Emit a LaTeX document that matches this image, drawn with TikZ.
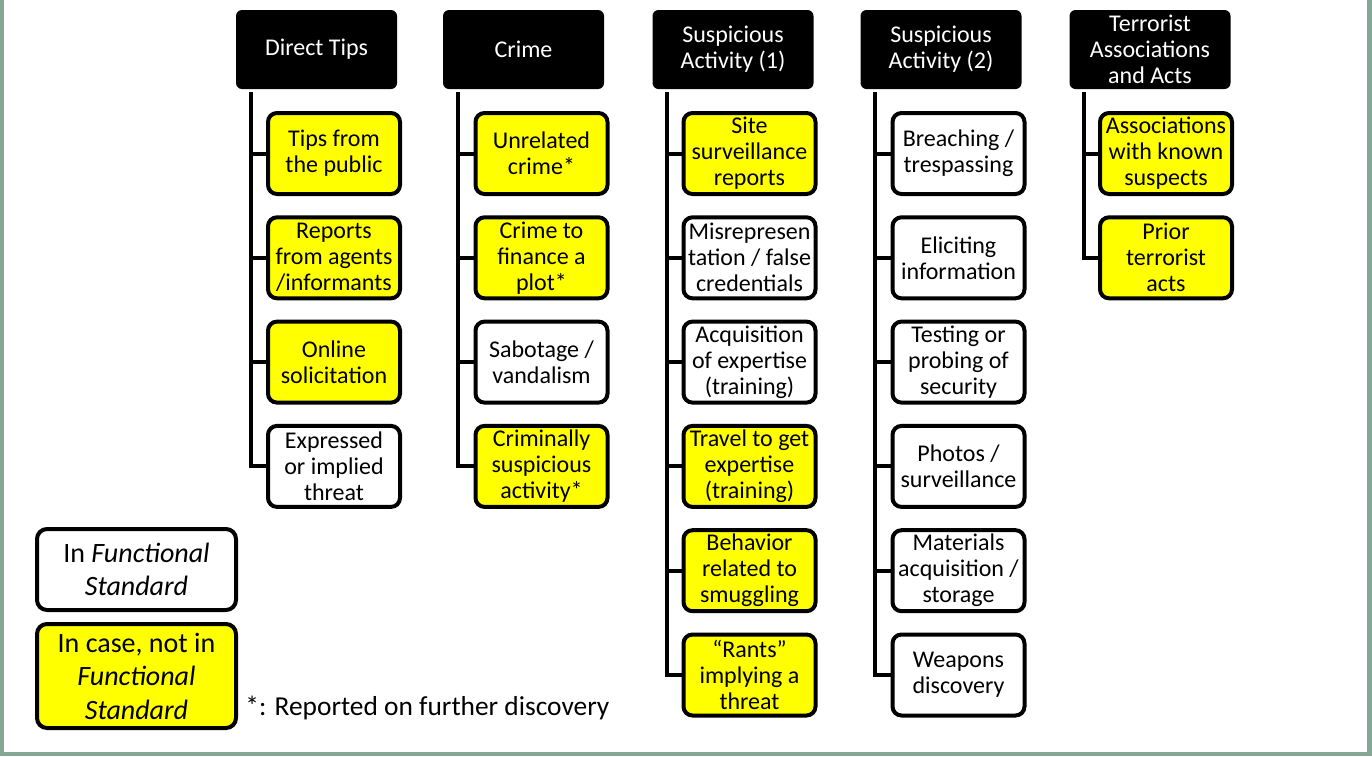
\documentclass[tikz,border=0pt]{standalone}
\usepackage{fontspec}
\setmainfont{Carlito}
\definecolor{framegreen}{RGB}{134,167,147}
\definecolor{boxyellow}{RGB}{255,255,0}
\begin{document}
\begin{tikzpicture}[x=0.5pt,y=-0.5pt,
  hdr/.style={fill=black, text=white, rounded corners=3pt, inner sep=0pt,
    minimum width=80.5pt, minimum height=39.5pt, align=center,
    font=\fontsize{12}{13}\selectfont},
  item/.style={draw=black, line width=2pt, rounded corners=4.5pt, inner sep=0pt,
    minimum width=66pt, minimum height=40.5pt, align=center,
    font=\fontsize{12}{13}\selectfont},
  inyes/.style={item, fill=white},
  inno/.style={item, fill=boxyellow},
  legendbox/.style={draw=black, line width=2pt, rounded corners=5pt, inner sep=0pt,
    minimum width=99.5pt, align=center, font=\fontsize{14}{16.75}\selectfont},
  conn/.style={draw=black, line width=2pt}
]
% page frame
\useasboundingbox (0,0) rectangle (1372,756);
\fill[framegreen] (0,0) rectangle (1372,756);
\fill[white] (4,0) rectangle (1367,752);

% column headers
\node[hdr] (dt) at (316.5,49.5) {Direct Tips};
\node[hdr] (cr) at (523.5,49.5) {Crime};
\node[hdr] (sa) at (733,49.5) {Suspicious\\Activity (1)};
\node[hdr] (sb) at (941,49.5) {Suspicious\\Activity (2)};
\node[hdr] (ta) at (1150,49.5) {Terrorist\\Associations\\and Acts};

% Direct Tips
\node[inno]  (dt1) at (334,153.5) {Tips from\\the public};
\node[inno]  (dt2) at (334,257.8) {Reports\\from agents\\/informants};
\node[inno]  (dt3) at (334,362.1) {Online\\solicitation};
\node[inyes] (dt4) at (334,466.4) {Expressed\\or implied\\threat};

% Crime
\node[inno]  (cr1) at (541.5,153.5) {Unrelated\\crime*};
\node[inno]  (cr2) at (541.5,257.8) {Crime to\\finance a\\plot*};
\node[inyes] (cr3) at (541.5,362.1) {Sabotage /\\vandalism};
\node[inno]  (cr4) at (541.5,466.4) {Criminally\\suspicious\\activity*};

% Suspicious Activity (1)
\node[inno]  (sa1) at (749.5,153.5) {Site\\surveillance\\reports};
\node[inyes] (sa2) at (749.5,257.8) {Misrepresen\\tation / false\\credentials};
\node[inyes] (sa3) at (749.5,362.1) {Acquisition\\of expertise\\(training)};
\node[inno]  (sa4) at (749.5,466.4) {Travel to get\\expertise\\(training)};
\node[inno]  (sa5) at (749.5,570.7) {Behavior\\related to\\smuggling};
\node[inno]  (sa6) at (749.5,675) {“Rants”\\implying a\\threat};

% Suspicious Activity (2)
\node[inyes] (sb1) at (958.5,153.5) {Breaching /\\trespassing};
\node[inyes] (sb2) at (958.5,257.8) {Eliciting\\information};
\node[inyes] (sb3) at (958.5,362.1) {Testing or\\probing of\\security};
\node[inyes] (sb4) at (958.5,466.4) {Photos /\\surveillance};
\node[inyes] (sb5) at (958.5,570.7) {Materials\\acquisition /\\storage};
\node[inyes] (sb6) at (958.5,675) {Weapons\\discovery};

% Terrorist Associations and Acts
\node[inno] (ta1) at (1166,153.5) {Associations\\with known\\suspects};
\node[inno] (ta2) at (1166,257.8) {Prior\\terrorist\\acts};

% tree connectors: down from each header, across to each item
\foreach \h/\n in {dt/4, cr/4, sa/6, sb/6, ta/2}{
  \foreach \k in {1,...,\n}{
    \draw[conn] ([xshift=7.5pt,yshift=-1.5pt]\h.south west) |- (\h\k.west);
  }
}

% legend
\node[legendbox, fill=white, minimum height=40.5pt] (lg1) at (136.5,569.5)
  {In \textit{Functional}\\\textit{Standard}};
\node[legendbox, fill=boxyellow, minimum height=52pt] (lg2) at (136.5,676)
  {In case, not in\\\textit{Functional}\\\textit{Standard}};
\node[anchor=base west, inner sep=0pt, font=\fontsize{13.7}{16}\selectfont] (note) at (245,715)
  {*: Reported on further discovery};
\end{tikzpicture}
\end{document}
